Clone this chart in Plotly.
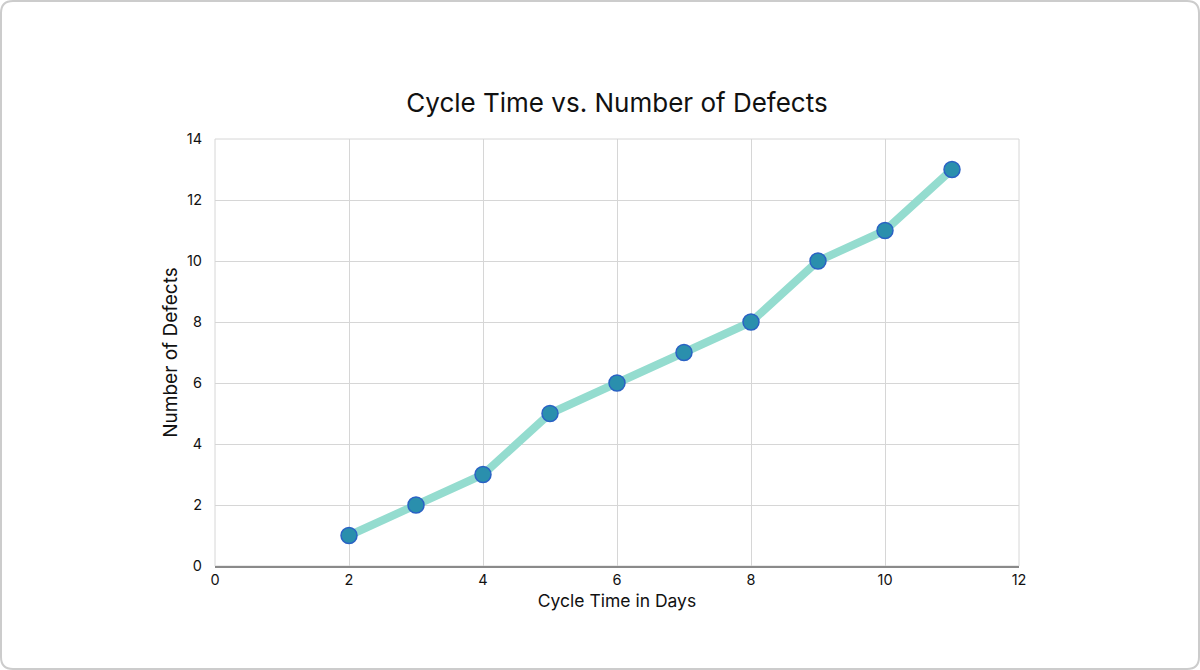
import plotly.graph_objects as go

cycle_days = [2, 3, 4, 5, 6, 7, 8, 9, 10, 11]
defects = [1, 2, 3, 5, 6, 7, 8, 10, 11, 13]
x_ticks = [0, 2, 4, 6, 8, 10, 12]
y_ticks = [0, 2, 4, 6, 8, 10, 12, 14]

W, H = 1200, 670
L, R, T, B = 215, 181, 139, 104
pw, ph = W - L - R, H - T - B

def px(x):
    return (x - L) / pw

def py(y):
    return (H - B - y) / ph

fig = go.Figure()
fig.add_trace(go.Scatter(
    x=cycle_days, y=defects, mode="lines+markers",
    line=dict(color="#94dccf", width=8),
    marker=dict(size=16, color="#2a8fad", line=dict(color="#2a62c4", width=1.5)),
    hoverinfo="x+y", showlegend=False,
))

# rounded outer border
x0, x1, y0, y1, r = 1.0, 1199.0, 1.0, 669.0, 12.0
path = (
    f"M {px(x0+r)},{py(y0)} L {px(x1-r)},{py(y0)} "
    f"Q {px(x1)},{py(y0)} {px(x1)},{py(y0+r)} "
    f"L {px(x1)},{py(y1-r)} Q {px(x1)},{py(y1)} {px(x1-r)},{py(y1)} "
    f"L {px(x0+r)},{py(y1)} Q {px(x0)},{py(y1)} {px(x0)},{py(y1-r)} "
    f"L {px(x0)},{py(y0+r)} Q {px(x0)},{py(y0)} {px(x0+r)},{py(y0)} Z"
)
fig.add_shape(type="path", path=path, xref="paper", yref="paper",
              line=dict(color="#cccccc", width=2), layer="below")
fig.add_shape(type="rect", x0=0, x1=1, y0=0, y1=1, xref="paper", yref="paper",
              line=dict(color="#d6d6d6", width=1), layer="below")

font_family = "Inter, 'Open Sans', sans-serif"
fig.update_layout(
    width=W, height=H,
    margin=dict(l=L, r=R, t=T, b=B),
    paper_bgcolor="white", plot_bgcolor="white",
    font=dict(family=font_family, color="#111111"),
    title=dict(text="Cycle Time vs. Number of Defects", x=0.5, xref="paper",
               xanchor="center", y=1 - 103 / H, yanchor="middle",
               font=dict(size=26, color="#111111", family=font_family)),
    xaxis=dict(range=[0, 12], tickvals=x_ticks, showgrid=True, gridcolor="#d6d6d6",
               gridwidth=1, zeroline=False, showline=True, linecolor="#8a8a8a",
               linewidth=1.5, ticks="", tickfont=dict(size=14.5),
               title=dict(text="Cycle Time in Days", font=dict(size=17.5), standoff=8)),
    yaxis=dict(range=[0, 14], tickvals=y_ticks, showgrid=True, gridcolor="#d6d6d6",
               gridwidth=1, zeroline=False, showline=False, ticks="",
               tickfont=dict(size=14.5), ticklabelstandoff=12,
               title=dict(text="Number of Defects", font=dict(size=19), standoff=4)),
)
fig.write_html("out.html", post_script="document.body.style.margin='0';",
               config={"displayModeBar": False})
